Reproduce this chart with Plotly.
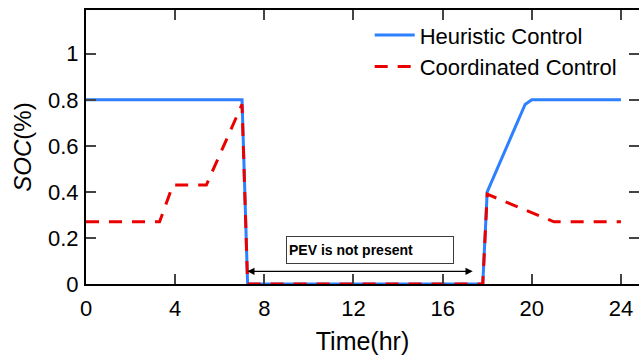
import plotly.graph_objects as go

# Data
heur_t = [0, 7.0, 7.25, 17.8, 18.0, 19.7, 20.0, 24]
heur_soc = [0.8, 0.8, 0.0, 0.0, 0.4, 0.78, 0.8, 0.8]
coord_t = [0, 3.3, 3.9, 5.4, 7.0, 7.25, 17.8, 18.0, 21.0, 24]
coord_soc = [0.27, 0.27, 0.43, 0.43, 0.78, 0.0, 0.0, 0.39, 0.27, 0.27]
x_ticks = [0, 4, 8, 12, 16, 20, 24]
y_ticks = [0, 0.2, 0.4, 0.6, 0.8, 1]
y_tick_text = ["0", "0.2", "0.4", "0.6", "0.8", "1"]

BLUE = "rgb(45,128,255)"
RED = "rgb(235,0,0)"
FONT = "Liberation Sans, Arial, sans-serif"

fig = go.Figure()
fig.add_trace(go.Scatter(x=heur_t, y=heur_soc, mode="lines", name="Heuristic Control",
                         line=dict(color=BLUE, width=3)))
fig.add_trace(go.Scatter(x=coord_t, y=coord_soc, mode="lines", name="Coordinated Control",
                         line=dict(color=RED, width=3, dash="13px,10px")))
# invisible trace to host right-side ticks
fig.add_trace(go.Scatter(x=[None], y=[None], yaxis="y2", showlegend=False, hoverinfo="skip"))

# double arrow
fig.add_annotation(x=17.35, y=0.055, ax=7.17, ay=0.055, xref="x", yref="y", axref="x", ayref="y",
                   text="", showarrow=True, arrowhead=2, arrowside="end+start", arrowsize=1.2,
                   arrowwidth=1.2, arrowcolor="black")
fig.add_annotation(x=12.75, y=0.146, xref="x", yref="y", text="<b>PEV is not present</b>",
                   showarrow=False, font=dict(family=FONT, size=14, color="black"),
                   bordercolor="rgb(60,60,60)", borderwidth=1, borderpad=2,
                   width=162, height=22, align="left", bgcolor="white")

common_y = dict(range=[0, 1.19], tickvals=y_ticks, ticks="inside", ticklen=10, tickwidth=2,
                showgrid=False, zeroline=False)

fig.update_layout(
    width=639, height=356,
    margin=dict(l=86, r=0, t=10, b=72),
    plot_bgcolor="white", paper_bgcolor="white",
    font=dict(family=FONT, color="black"),
    legend=dict(x=0.513, y=0.985, xanchor="left", yanchor="top", bgcolor="rgba(0,0,0,0)",
                font=dict(size=22, family=FONT), itemwidth=40, tracegroupgap=0),
    xaxis=dict(range=[0, 24.81], tickvals=x_ticks, ticks="inside", ticklen=10, tickwidth=2,
               showline=True, linewidth=2, linecolor="black", mirror="ticks", showgrid=False,
               zeroline=False, tickfont=dict(size=22, family=FONT), automargin=False,
               ticklabelstandoff=4,
               title=dict(text="Time(hr)", font=dict(size=25, family=FONT), standoff=12)),
    yaxis=dict(**common_y, ticktext=y_tick_text, showline=True, linewidth=2, linecolor="black",
               mirror=False, tickfont=dict(size=22, family=FONT), automargin=False,
               ticklabelstandoff=1,
               title=dict(text="<i>SOC</i>(%)", font=dict(size=24, family=FONT), standoff=10)),
    yaxis2=dict(**common_y, overlaying="y", side="right", showline=False, showticklabels=False,
                anchor="x", automargin=False),
)

fig.write_html("out.html", config={"displayModeBar": False},
               post_script="document.body.style.margin='0';document.body.style.overflow='hidden';")
